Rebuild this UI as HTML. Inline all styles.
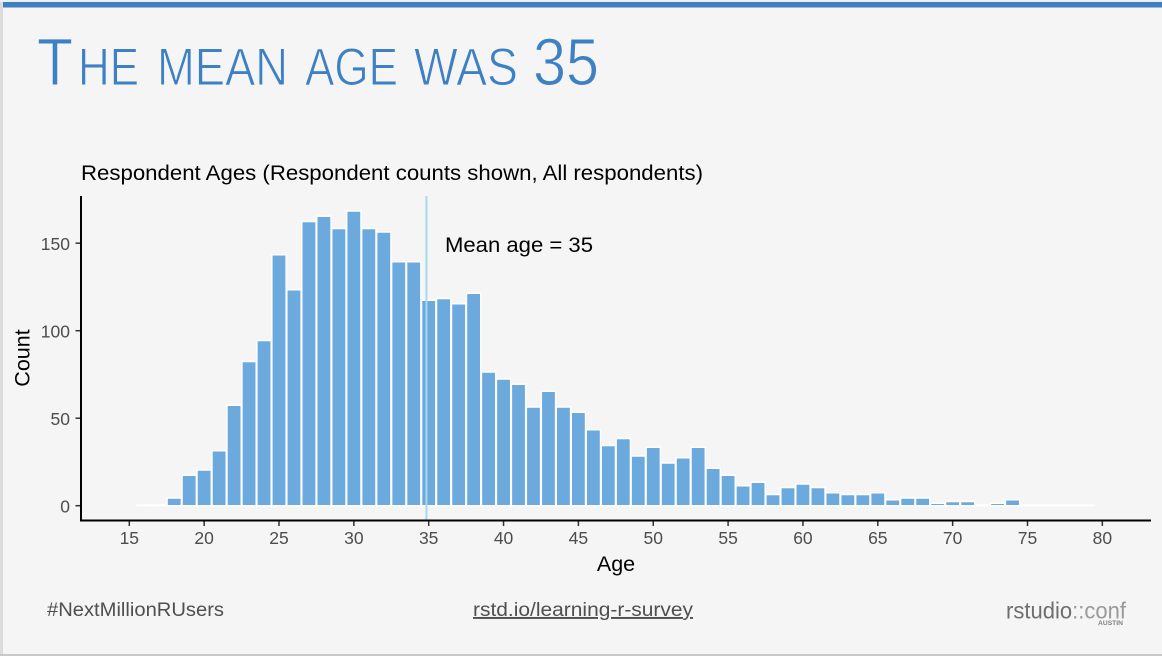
<!DOCTYPE html>
<html lang="en">
<head>
<meta charset="utf-8">
<title>The mean age was 35</title>
<style>
html,body{margin:0;padding:0;width:1162px;height:656px;overflow:hidden;background:#f5f5f5;}
svg{display:block;font-family:"Liberation Sans",Arial,sans-serif;}
.ttl{font-family:"Liberation Sans Narrow","Liberation Sans",sans-serif;fill:#3d80c4;stroke:#f5f5f5;stroke-width:1px;paint-order:fill stroke;}
</style>
</head>
<body>
<svg id="slide" width="1162" height="656" viewBox="0 0 1162 656" xmlns="http://www.w3.org/2000/svg">
  <rect x="0" y="0" width="1162" height="656" fill="#f5f5f5"/>
  <rect x="0" y="0" width="3" height="656" fill="#dcdcdc"/>
  <rect x="0" y="0" width="1162" height="2" fill="#eeeeee"/>
  <rect x="3" y="2" width="1159" height="5.5" fill="#3d7fc1"/>
  <rect x="0" y="654" width="1162" height="2" fill="#c8c8c8"/>

  <g>
    <text class="ttl" x="37" y="85" font-size="67" textLength="36" lengthAdjust="spacingAndGlyphs">T</text>
    <text class="ttl" x="78" y="85" font-size="53" textLength="61" lengthAdjust="spacingAndGlyphs">HE</text>
    <text class="ttl" x="157" y="85" font-size="53" textLength="131" lengthAdjust="spacingAndGlyphs">MEAN</text>
    <text class="ttl" x="305" y="85" font-size="53" textLength="93" lengthAdjust="spacingAndGlyphs">AGE</text>
    <text class="ttl" x="414" y="85" font-size="53" textLength="104" lengthAdjust="spacingAndGlyphs">WAS</text>
    <text class="ttl" x="533" y="85" font-size="67" textLength="66" lengthAdjust="spacingAndGlyphs">35</text>
  </g>

  <text x="81" y="180" font-size="21.5" fill="#000" textLength="622" lengthAdjust="spacingAndGlyphs">Respondent Ages (Respondent counts shown, All respondents)</text>

  <g id="bars"></g>
  <g id="x-ticks"></g>
  <g id="y-ticks"></g>
  <line id="mean-line" y1="196" y2="521" stroke="#a6d9ec" stroke-width="2"/>

  <line x1="81" x2="81" y1="196" y2="521.5" stroke="#000" stroke-width="2"/>
  <line x1="80" x2="1151" y1="520.5" y2="520.5" stroke="#000" stroke-width="2"/>

  <text x="445" y="252" font-size="21.5" fill="#000" textLength="148" lengthAdjust="spacingAndGlyphs">Mean age = 35</text>
  <text x="616" y="571" font-size="21.5" fill="#000" text-anchor="middle">Age</text>
  <text transform="translate(29.5,358) rotate(-90)" font-size="21.5" fill="#000" text-anchor="middle">Count</text>

  <text x="47" y="616" font-size="19" fill="#4f4f4f" textLength="177" lengthAdjust="spacingAndGlyphs">#NextMillionRUsers</text>
  <text x="473" y="616" font-size="19" fill="#4f4f4f" text-decoration="underline" textLength="220" lengthAdjust="spacingAndGlyphs">rstd.io/learning-r-survey</text>

  <g>
    <text x="1006" y="618.5" font-size="23" fill="#6e6e6e" textLength="120" lengthAdjust="spacingAndGlyphs">rstudio<tspan fill="#9a9a9a">::conf</tspan></text>
    <text x="1098" y="625" font-size="6.5" font-weight="bold" fill="#808080" textLength="25" lengthAdjust="spacingAndGlyphs">AUSTIN</text>
  </g>
</svg>

<script>
var ages = [16,17,18,19,20,21,22,23,24,25,26,27,28,29,30,31,32,33,34,35,36,37,38,39,40,41,42,43,44,45,46,47,48,49,50,51,52,53,54,55,56,57,58,59,60,61,62,63,64,65,66,67,68,69,70,71,72,73,74,75,76,77,78,79];
var counts = [0,0,4,17,20,31,57,82,94,143,123,162,165,158,168,158,156,139,139,117,118,115,121,76,72,69,56,65,56,53,43,34,38,28,33,24,27,33,21,17,11,13,6,10,12,10,7,6,6,7,3,4,4,1,2,2,0,1,3,0,0,0,0,0];
var xTickValues = [15,20,25,30,35,40,45,50,55,60,65,70,75,80];
var yTickValues = [0,50,100,150];
var meanAge = 34.85;

var SVG_NS = 'http://www.w3.org/2000/svg';
function xScale(v){ return 129.3 + (v - 15) * 14.97; }
function yScale(v){ return 505.7 - v * 1.75; }

var barsGroup = document.getElementById('bars');
var binWidth = xScale(1) - xScale(0);
var strokeW = 1.4;
ages.forEach(function(age, i){
  var r = document.createElementNS(SVG_NS, 'path');
  var w = binWidth * 0.95;
  var left = xScale(age) - w / 2;
  var top = yScale(counts[i]) - strokeW / 2;
  var bottom = yScale(0);
  r.setAttribute('d', 'M' + left + ' ' + bottom + 'V' + top + 'H' + (left + w) + 'V' + bottom + 'Z');
  r.setAttribute('fill', '#6caade');
  r.setAttribute('stroke', '#ffffff');
  r.setAttribute('stroke-width', strokeW);
  
  
  barsGroup.appendChild(r);
});

var xGroup = document.getElementById('x-ticks');
xTickValues.forEach(function(v){
  var t = document.createElementNS(SVG_NS, 'line');
  t.setAttribute('x1', xScale(v));
  t.setAttribute('x2', xScale(v));
  t.setAttribute('y1', 521);
  t.setAttribute('y2', 526);
  t.setAttribute('stroke', '#333333');
  t.setAttribute('stroke-width', '1.5');
  
  
  xGroup.appendChild(t);
  var l = document.createElementNS(SVG_NS, 'text');
  l.setAttribute('x', xScale(v));
  l.setAttribute('y', 544);
  l.setAttribute('font-size', '17.5');
  l.setAttribute('fill', '#4d4d4d');
  l.setAttribute('text-anchor', 'middle');
  
  
  l.textContent = v;
  xGroup.appendChild(l);
});

var yGroup = document.getElementById('y-ticks');
yTickValues.forEach(function(v){
  var t = document.createElementNS(SVG_NS, 'line');
  t.setAttribute('x1', 75.5);
  t.setAttribute('x2', 81);
  t.setAttribute('y1', yScale(v));
  t.setAttribute('y2', yScale(v));
  t.setAttribute('stroke', '#333333');
  t.setAttribute('stroke-width', '1.5');
  
  
  yGroup.appendChild(t);
  var l = document.createElementNS(SVG_NS, 'text');
  l.setAttribute('x', 70);
  l.setAttribute('y', yScale(v) + 7);
  l.setAttribute('font-size', '17.5');
  l.setAttribute('fill', '#4d4d4d');
  l.setAttribute('text-anchor', 'end');
  
  
  l.textContent = v;
  yGroup.appendChild(l);
});

var meanLine = document.getElementById('mean-line');
meanLine.setAttribute('x1', xScale(meanAge));
meanLine.setAttribute('x2', xScale(meanAge));
</script>
</body>
</html>
